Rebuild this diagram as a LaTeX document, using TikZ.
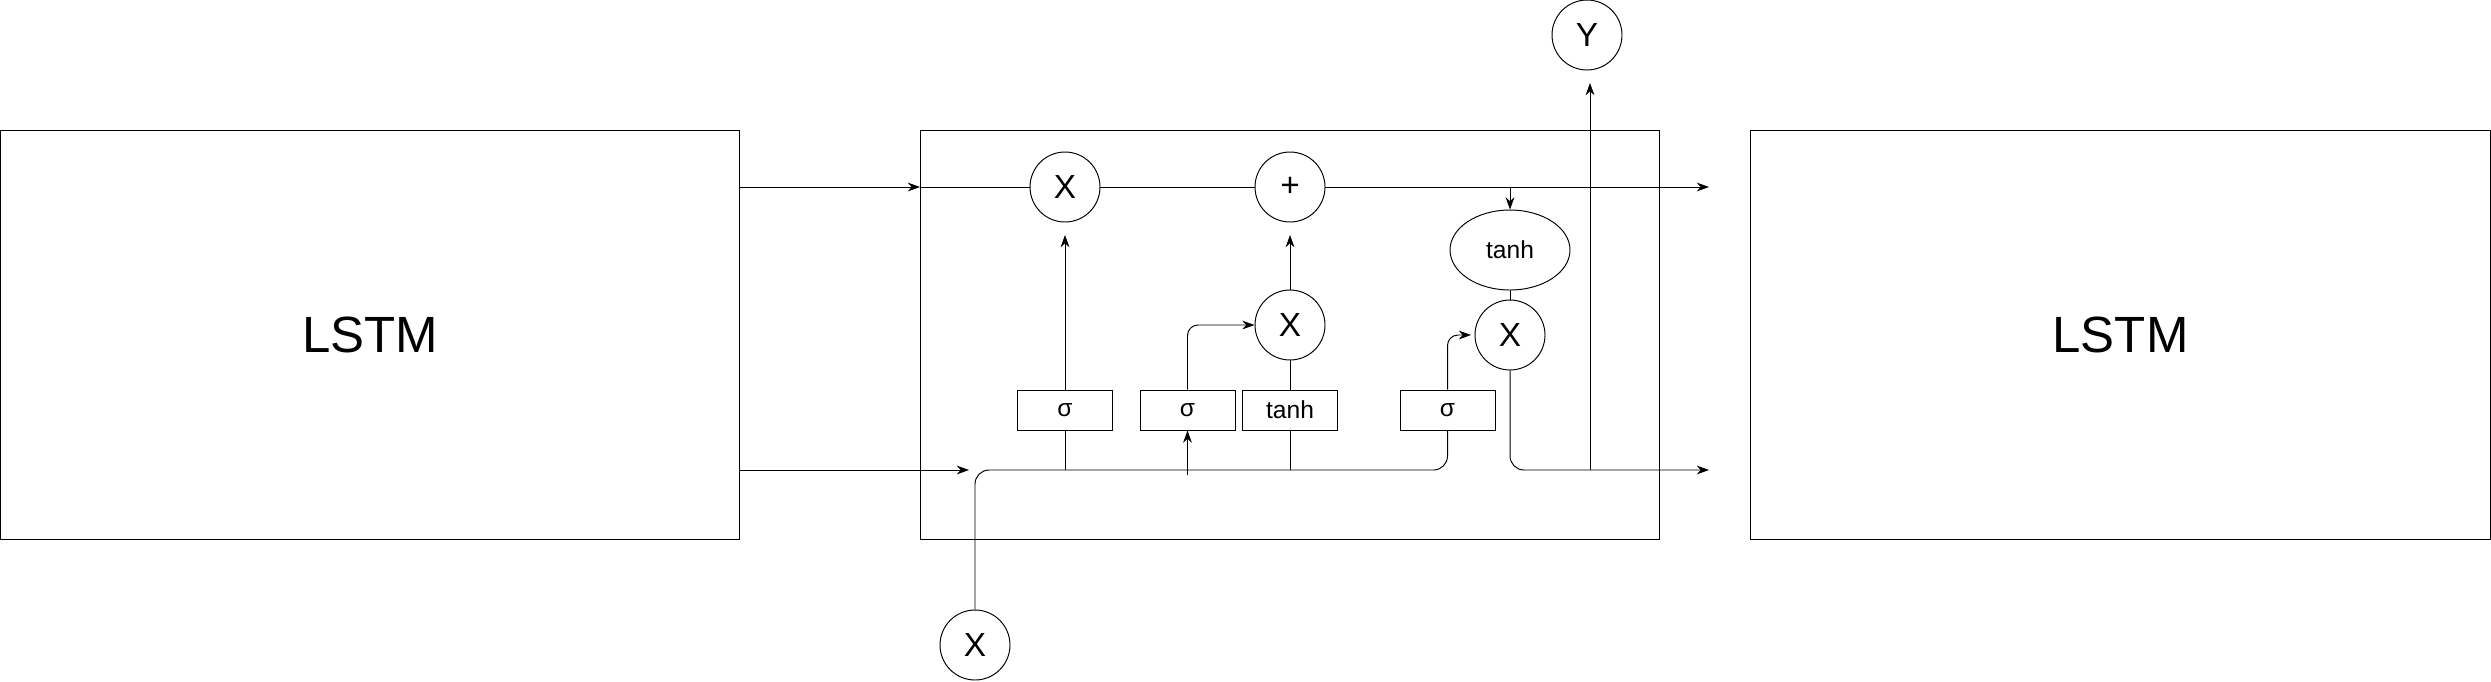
\documentclass[tikz,border=0pt]{standalone}
\usepackage{fontspec}
\setmainfont{Liberation Sans}
\usepackage{tikz}
\usetikzlibrary{arrows.meta, shapes.geometric}

\begin{document}
\begin{tikzpicture}[x=0.02cm, y=-0.02cm, line width=0.55pt, >={Stealth[length=7pt, width=5pt]},
    cell/.style={draw, minimum width=14.8cm, minimum height=8.2cm, inner sep=0pt, font=\fontsize{29}{29}\selectfont},
    gate/.style={draw, minimum width=1.9cm, minimum height=0.8cm, inner sep=0pt, font=\fontsize{14}{14}\selectfont},
    op/.style={draw, circle, minimum size=1.4cm, inner sep=0pt, font=\fontsize{19}{19}\selectfont}]
        \useasboundingbox (0,0) rectangle (2491,681);

        % Draw the three cells
        \node[cell] (lstmL) at (370,335) {LSTM};
        \node[cell] (cellbox) at (1290,335) {};
        \node[cell] (lstmR) at (2120.5,335) {LSTM};

        % Add points on the cell state and hidden state lines
        \coordinate (ctop) at (920,187);
        \coordinate (ctopout) at (1709,187);
        \coordinate (cbot) at (1300,470);
        \coordinate (cbotin) at (969,470);
        \coordinate (cbotout) at (1709,470);
        \coordinate (ybranch) at (1590,470);

        % Draw the pointwise operations
        \node[op] (fx) at (1065,187) {X};
        \node[op] (plus) at (1290,187) {+};
        \node[op] (ix) at (1290,325) {X};
        \node[op] (ox) at (1510,335) {X};
        \node[draw, ellipse, minimum width=2.4cm, minimum height=1.6cm, inner sep=0pt, font=\fontsize{14}{14}\selectfont] (th) at (1510,250) {tanh};

        % Draw the gates
        \node[gate] (gf) at (1065,410) {σ};
        \node[gate] (gi) at (1187.5,410) {σ};
        \node[gate] (gc) at (1290,410) {tanh};
        \node[gate] (go) at (1447.5,410) {σ};

        % Add input and output
        \node[op] (xin) at (975,645) {X};
        \node[op] (yout) at (1587,35) {Y};

        % Draw the cell state line
        \draw[->] (lstmL.east |- ctop) -- (ctop);
        \draw (ctop) -- (fx.west);
        \draw (fx.east) -- (plus.west);
        \draw[->] (plus.east) -- (ctopout);
        \draw[->] (th.north |- ctop) -- (th.north);
        \draw (th.south) -- (ox.north);

        % Draw the hidden state line
        \draw[->] (lstmL.east |- cbot) -- (cbotin);
        \draw[rounded corners=8pt] (xin.north) |- (cbot) -| (go.south);
        \draw (gf.south) -- (gf.south |- cbot);
        \draw (gc.south) -- (gc.south |- cbot);
        \draw[->] ([yshift=-3pt]gi.south |- cbot) -- (gi.south);
        \draw[->, rounded corners=8pt] (ox.south) |- (cbotout);
        \draw[->, shorten >=0.25cm] (ybranch) -- (ybranch |- yout.south);

        % Draw the gate outputs
        \draw[->, shorten >=0.25cm] (gf.north) -- (fx.south);
        \draw[->, shorten >=0.25cm] (ix.north) -- (plus.south);
        \draw (gc.north) -- (ix.south);
        \draw[->, rounded corners=6pt] (gi.north) |- (ix.west);
        \draw[->, rounded corners=6pt, shorten >=2pt] (go.north) |- (ox.west);
    \end{tikzpicture}
\end{document}
